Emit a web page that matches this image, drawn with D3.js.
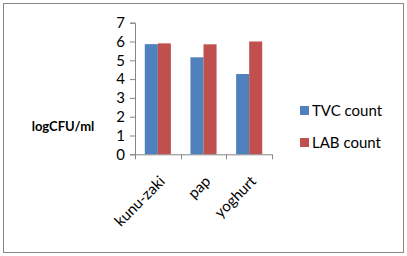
<!DOCTYPE html>
<html>
<head>
<meta charset="utf-8">
<script src="https://cdn.jsdelivr.net/npm/d3@7"></script>
<style>
  body { margin: 0; background: #fff; }
  text { font-family: Lato, "Open Sans", sans-serif; }
</style>
</head>
<body>
<div id="chart"></div>
<script>
const categories = ["kunu-zaki", "pap", "yoghurt"];
const seriesNames = ["TVC count", "LAB count"];
const tvcCount = [5.86, 5.16, 4.27];
const labCount = [5.9, 5.85, 6.0];
const yTicks = [0, 1, 2, 3, 4, 5, 6, 7];

const colors = ["#4f81bd", "#c0504d"];

const W = 407, H = 256;
const plot = { left: 135, right: 272, top: 22.7, bottom: 154.3 };

const svg = d3.select("#chart")
  .append("svg")
  .attr("width", W)
  .attr("height", H);

// outer frame
svg.append("rect")
  .attr("x", 3.5).attr("y", 3.5)
  .attr("width", W - 7).attr("height", H - 7)
  .attr("fill", "#fff")
  .attr("stroke", "#868686");

const x0 = d3.scaleBand()
  .domain(categories)
  .range([plot.left, plot.right]);

const x1 = d3.scaleBand()
  .domain(seriesNames)
  .range([0, x0.bandwidth()])
  .paddingOuter(0.75)
  .paddingInner(0);

const y = d3.scaleLinear()
  .domain([0, 7])
  .range([plot.bottom, plot.top]);

const rows = categories.map((c, i) => ({ cat: c, vals: [tvcCount[i], labCount[i]] }));

// bars
svg.append("g")
  .selectAll("g")
  .data(rows)
  .join("g")
  .attr("transform", d => `translate(${x0(d.cat)},0)`)
  .selectAll("rect")
  .data(d => d.vals.map((v, k) => ({ key: seriesNames[k], value: v, k })))
  .join("rect")
  .attr("x", d => x1(d.key))
  .attr("y", d => y(d.value))
  .attr("width", x1.bandwidth())
  .attr("height", d => plot.bottom - y(d.value))
  .attr("fill", d => colors[d.k]);

// y axis
const yAxis = svg.append("g")
  .attr("transform", `translate(${plot.left},0)`)
  .call(d3.axisLeft(y).tickValues(yTicks).tickSize(5).tickPadding(5).tickFormat(d3.format("d")));
yAxis.select(".domain").attr("stroke", "#868686");
yAxis.selectAll(".tick line").attr("stroke", "#868686");
yAxis.selectAll(".tick text")
  .attr("fill", "#000")
  .style("font-size", "15px")
  .style("font-family", "Lato, sans-serif");

// x axis with boundary ticks
const xAxisG = svg.append("g");
xAxisG.append("line")
  .attr("x1", plot.left).attr("x2", plot.right)
  .attr("y1", plot.bottom + 0.5).attr("y2", plot.bottom + 0.5)
  .attr("stroke", "#868686");
const bounds = categories.map(c => x0(c)).concat([plot.right]);
xAxisG.selectAll("line.b")
  .data(bounds)
  .join("line")
  .attr("class", "b")
  .attr("x1", d => Math.round(d) + 0.5).attr("x2", d => Math.round(d) + 0.5)
  .attr("y1", plot.bottom).attr("y2", plot.bottom + 5)
  .attr("stroke", "#868686");

xAxisG.selectAll("text")
  .data(categories)
  .join("text")
  .attr("transform", d => `translate(${x0(d) + x0.bandwidth() / 2 + 8},${plot.bottom + 28}) rotate(-45)`)
  .attr("text-anchor", "end")
  .style("font-size", "15px")
  .attr("fill", "#000")
  .text(d => d);

// y title
svg.append("text")
  .attr("x", 63)
  .attr("y", 131)
  .attr("text-anchor", "middle")
  .style("font-size", "13px")
  .style("font-weight", "bold")
  .attr("fill", "#000")
  .text("logCFU/ml");

// legend
const legend = svg.selectAll(".legend")
  .data(seriesNames)
  .join("g")
  .attr("class", "legend")
  .attr("transform", (d, i) => `translate(300, ${111 + i * 32})`);

legend.append("rect")
  .attr("x", 0).attr("y", -5)
  .attr("width", 9).attr("height", 9)
  .attr("fill", (d, i) => colors[i]);

legend.append("text")
  .attr("x", 12)
  .attr("y", 0)
  .attr("dy", "0.35em")
  .style("font-size", "15px")
  .attr("fill", "#000")
  .text(d => d);
</script>
</body>
</html>
